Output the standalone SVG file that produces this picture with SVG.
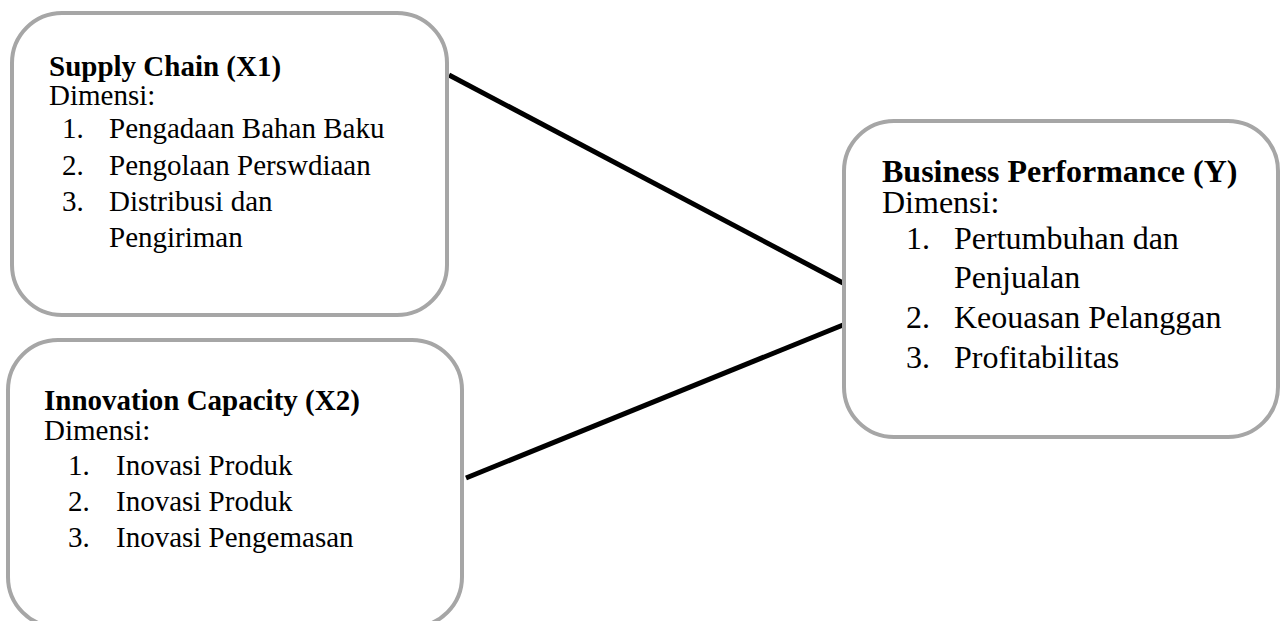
<svg xmlns="http://www.w3.org/2000/svg" width="1283" height="621" viewBox="0 0 1283 621">
<style>
.box{fill:#fff;stroke:#a6a6a6;stroke-width:4}
.t{font-family:"Liberation Serif","Times New Roman",serif;fill:#000}
.b{font-weight:bold}
.s29{font-size:29px}
.s32{font-size:32px}
.conn{stroke:#000;stroke-width:5;fill:none}
</style>
<rect width="1283" height="621" fill="#fff"/>
<g id="connectors">
<line class="conn" x1="449" y1="75" x2="843" y2="283"/>
<line class="conn" x1="466" y1="478" x2="843" y2="325"/>
</g>
<g id="supply-chain">
<rect class="box" x="12" y="13" width="435" height="302" rx="50"/>
<text class="t s29 b" x="49" y="76">Supply Chain (X1)</text>
<text class="t s29" x="49" y="105">Dimensi:</text>
<text class="t s29" x="62" y="138">1.</text><text class="t s29" x="109" y="138">Pengadaan Bahan Baku</text>
<text class="t s29" x="62" y="175">2.</text><text class="t s29" x="109" y="175">Pengolaan Perswdiaan</text>
<text class="t s29" x="62" y="211">3.</text><text class="t s29" x="109" y="211">Distribusi dan</text>
<text class="t s29" x="109" y="247">Pengiriman</text>
</g>
<g id="innovation-capacity">
<rect class="box" x="8" y="340" width="454" height="287" rx="50"/>
<text class="t s29 b" x="44" y="410">Innovation Capacity (X2)</text>
<text class="t s29" x="44" y="440">Dimensi:</text>
<text class="t s29" x="68" y="475">1.</text><text class="t s29" x="116" y="475">Inovasi Produk</text>
<text class="t s29" x="68" y="511">2.</text><text class="t s29" x="116" y="511">Inovasi Produk</text>
<text class="t s29" x="68" y="547">3.</text><text class="t s29" x="116" y="547">Inovasi Pengemasan</text>
</g>
<g id="business-performance">
<rect class="box" x="844" y="121" width="434" height="316" rx="50"/>
<text class="t s32 b" x="882" y="182">Business Performance (Y)</text>
<text class="t s32" x="882" y="213">Dimensi:</text>
<text class="t s32" x="906" y="249">1.</text><text class="t s32" x="954" y="249">Pertumbuhan dan</text>
<text class="t s32" x="954" y="288">Penjualan</text>
<text class="t s32" x="906" y="328">2.</text><text class="t s32" x="954" y="328">Keouasan Pelanggan</text>
<text class="t s32" x="906" y="368">3.</text><text class="t s32" x="954" y="368">Profitabilitas</text>
</g>
</svg>
